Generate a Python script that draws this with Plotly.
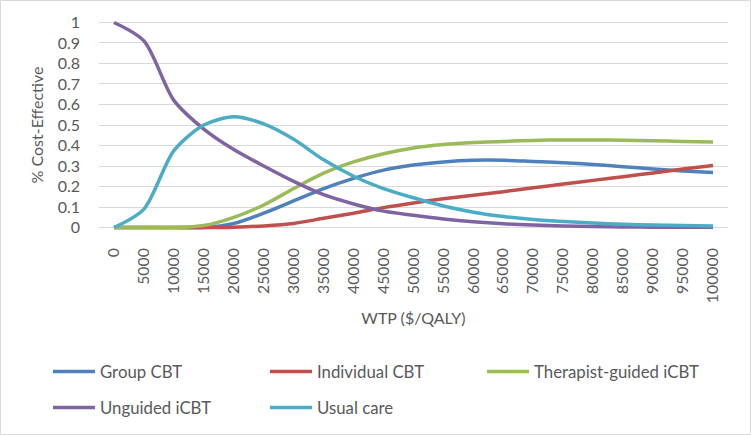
import plotly.graph_objects as go

wtp = list(range(0, 100001, 5000))
wtp_labels = [str(v) for v in wtp]

group_cbt = [0, 0, 0, 0, 0.02, 0.07, 0.13, 0.19, 0.24, 0.28, 0.305, 0.32, 0.328, 0.328,
             0.322, 0.316, 0.307, 0.297, 0.286, 0.276, 0.268]
individual_cbt = [0, 0, 0, 0, 0.002, 0.008, 0.02, 0.045, 0.07, 0.097, 0.12, 0.14, 0.157,
                  0.175, 0.194, 0.212, 0.23, 0.248, 0.266, 0.285, 0.303]
therapist_icbt = [0, 0, 0, 0.01, 0.05, 0.11, 0.19, 0.265, 0.32, 0.36, 0.388, 0.405, 0.415,
                  0.42, 0.425, 0.427, 0.427, 0.426, 0.423, 0.42, 0.417]
unguided_icbt = [1, 0.91, 0.62, 0.48, 0.38, 0.3, 0.225, 0.16, 0.115, 0.08, 0.06, 0.042,
                 0.028, 0.018, 0.012, 0.008, 0.005, 0.003, 0.002, 0.001, 0.001]
usual_care = [0, 0.09, 0.375, 0.5, 0.54, 0.505, 0.43, 0.33, 0.25, 0.19, 0.145, 0.105, 0.075,
              0.054, 0.039, 0.029, 0.022, 0.016, 0.012, 0.01, 0.008]

series = [
    ("Group CBT", group_cbt, "#4F81BD", "legend"),
    ("Individual CBT", individual_cbt, "#C0504D", "legend"),
    ("Therapist-guided iCBT", therapist_icbt, "#9BBB59", "legend"),
    ("Unguided iCBT", unguided_icbt, "#8064A2", "legend2"),
    ("Usual care", usual_care, "#4BACC6", "legend2"),
]

FONT = "Lato"
GREY = "#595959"

fig = go.Figure()
for name, vals, col, leg in series:
    fig.add_trace(go.Scatter(
        x=wtp_labels, y=vals, name=name, mode="lines", legend=leg,
        line=dict(color=col, width=3.5, shape="spline", smoothing=0.8),
    ))

W, H = 751, 435
ml, mr, mt, mb = 99, 23, 20, 205
pw, ph = W - ml - mr, H - mt - mb
bottom = H - mb


def py(pix):
    return (bottom - pix) / ph


def px(pix):
    return (pix - ml) / pw


legend_style = dict(orientation="h", xanchor="left", yanchor="top",
                    entrywidth=160, itemwidth=42,
                    font=dict(size=16.8, color=GREY), traceorder="normal",
                    bgcolor="rgba(0,0,0,0)")

fig.update_layout(
    width=W, height=H,
    margin=dict(l=ml, r=mr, t=mt, b=mb, autoexpand=False),
    paper_bgcolor="white", plot_bgcolor="white",
    font=dict(family=FONT, size=16, color=GREY),
    showlegend=True,
    legend=dict(x=px(48), y=py(354), **legend_style),
    legend2=dict(x=px(48), y=py(390), **legend_style),
    xaxis=dict(type="category", range=[-0.5, 20.5], tickangle=-90, showgrid=False,
               showline=False, ticks="", tickfont=dict(size=15.8),
               ticklabelstandoff=14, automargin=False,
               title=dict(text="WTP ($/QALY)", font=dict(size=16), standoff=10)),
    yaxis=dict(range=[-0.012, 1.012], tickvals=[i / 10 for i in range(11)],
               ticktext=["0"] + [f"{i/10:g}" for i in range(1, 10)] + ["1"],
               showgrid=True, gridcolor="#D9D9D9", gridwidth=1, zeroline=False,
               ticks="", ticklabelstandoff=18, tickfont=dict(size=16), automargin=False,
               title=dict(text="% Cost-Effective", font=dict(size=16), standoff=10)),
    shapes=[dict(type="rect", xref="paper", yref="paper",
                 x0=px(0.5), x1=px(W - 0.5), y0=py(H - 0.5), y1=py(0.5),
                 line=dict(color="#D9D9D9", width=1), layer="below")],
)

# page has the browser's default 8px body margin; drop it so the chart sits at 0,0
fig.write_html("out.html", config={"displayModeBar": False},
               post_script="document.body.style.margin='0';")
